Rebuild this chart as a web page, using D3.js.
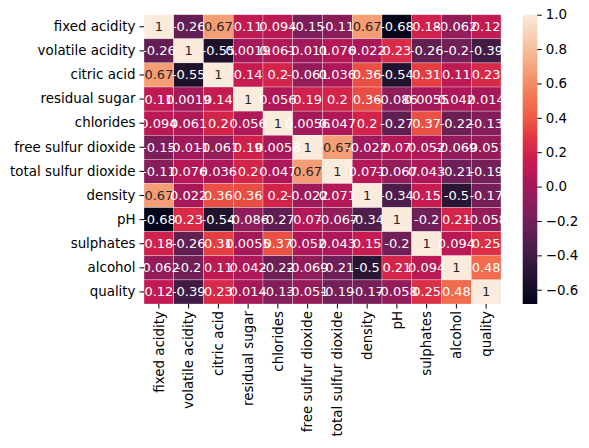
<!DOCTYPE html>
<html><head><meta charset="utf-8">
<script src="https://cdn.jsdelivr.net/npm/d3@7"></script>
<style>body{margin:0;background:#fff}svg{display:block}text{font-family:"DejaVu Sans",sans-serif}</style>
</head><body><svg id="c" width="589" height="448"></svg>
<script>
const labels = ["fixed acidity","volatile acidity","citric acid","residual sugar","chlorides","free sulfur dioxide","total sulfur dioxide","density","pH","sulphates","alcohol","quality"];
const r_fixed_acidity = [1, -0.2561, 0.6717, 0.1148, 0.09371, -0.1538, -0.1132, 0.668, -0.683, 0.183, -0.06167, 0.1241];
const r_volatile_acidity = [-0.2561, 1, -0.5525, 0.001918, 0.0613, -0.0105, 0.07647, 0.02203, 0.2349, -0.261, -0.2023, -0.3906];
const r_citric_acid = [0.6717, -0.5525, 1, 0.1436, 0.2038, -0.06098, 0.03553, 0.3649, -0.5419, 0.3128, 0.1099, 0.2264];
const r_residual_sugar = [0.1148, 0.001918, 0.1436, 1, 0.05561, 0.187, 0.203, 0.3553, -0.08565, 0.005527, 0.04208, 0.01373];
const r_chlorides = [0.09371, 0.0613, 0.2038, 0.05561, 1, 0.005562, 0.0474, 0.2006, -0.265, 0.3713, -0.2211, -0.1289];
const r_free_sulfur = [-0.1538, -0.0105, -0.06098, 0.187, 0.005562, 1, 0.6677, -0.02195, 0.07038, 0.05166, -0.06941, -0.05066];
const r_total_sulfur = [-0.1132, 0.07647, 0.03553, 0.203, 0.0474, 0.6677, 1, 0.07127, -0.0665, 0.04295, -0.2057, -0.1851];
const r_density = [0.668, 0.02203, 0.3649, 0.3553, 0.2006, -0.02195, 0.07127, 1, -0.3417, 0.1485, -0.4962, -0.1749];
const r_pH = [-0.683, 0.2349, -0.5419, -0.08565, -0.265, 0.07038, -0.0665, -0.3417, 1, -0.1966, 0.2056, -0.05773];
const r_sulphates = [0.183, -0.261, 0.3128, 0.005527, 0.3713, 0.05166, 0.04295, 0.1485, -0.1966, 1, 0.0936, 0.2514];
const r_alcohol = [-0.06167, -0.2023, 0.1099, 0.04208, -0.2211, -0.06941, -0.2057, -0.4962, 0.2056, 0.0936, 1, 0.4762];
const r_quality = [0.1241, -0.3906, 0.2264, 0.01373, -0.1289, -0.05066, -0.1851, -0.1749, -0.05773, 0.2514, 0.4762, 1];
const matrix = [r_fixed_acidity, r_volatile_acidity, r_citric_acid, r_residual_sugar, r_chlorides, r_free_sulfur, r_total_sulfur, r_density, r_pH, r_sulphates, r_alcohol, r_quality];
const cbarTicks = [-0.6, -0.4, -0.2, 0.0, 0.2, 0.4, 0.6, 0.8, 1.0];

// rocket colormap approximation
const rocketStops = [
 [0.0,"#03051a"],[0.07,"#1c1029"],[0.143,"#35193e"],[0.214,"#521e4d"],[0.286,"#701f57"],
 [0.357,"#8f1d5b"],[0.429,"#ad1759"],[0.5,"#cb1b4f"],[0.571,"#e13342"],[0.643,"#ed5a45"],
 [0.714,"#f37651"],[0.786,"#f5966c"],[0.857,"#f6b48f"],[0.929,"#f7d0b4"],[1.0,"#faebdd"]];
const rocket = d3.scaleLinear().domain(rocketStops.map(d=>d[0])).range(rocketStops.map(d=>d[1])).interpolate(d3.interpolateRgb).clamp(true);

const flat = matrix.flat();
const vmin = d3.min(flat), vmax = d3.max(flat);
const norm = d3.scaleLinear().domain([vmin, vmax]).range([0,1]);
const color = v => rocket(norm(v));

const L = 144, T = 14.7, W = 357, H = 289.3;
const svg = d3.select("#c");
const x = d3.scaleBand().domain(labels).range([L, L+W]);
const y = d3.scaleBand().domain(labels).range([T, T+H]);

const loc = d3.formatLocale({decimal:".", thousands:",", grouping:[3], currency:["",""], minus:"-"});
const fmt = loc.format(".2~g");

function lum(c){
  const rgb = d3.rgb(c);
  const f = v => { v/=255; return v<=0.03928 ? v/12.92 : Math.pow((v+0.055)/1.055,2.4); };
  return 0.2126*f(rgb.r)+0.7152*f(rgb.g)+0.0722*f(rgb.b);
}

const cells = [];
matrix.forEach((row,i)=>row.forEach((v,j)=>cells.push({r:labels[i], c:labels[j], v})));

svg.append("g").selectAll("rect").data(cells).join("rect")
  .attr("x", d=>x(d.c)).attr("y", d=>y(d.r))
  .attr("width", x.bandwidth()).attr("height", y.bandwidth())
  .attr("fill", d=>color(d.v)).attr("stroke","white").attr("stroke-width",0.5).attr("stroke-opacity",0.6);

svg.append("g").selectAll("text").data(cells).join("text")
  .attr("x", d=>x(d.c)+x.bandwidth()/2).attr("y", d=>y(d.r)+y.bandwidth()/2)
  .attr("text-anchor","middle").attr("dominant-baseline","central")
  .attr("font-size","13px")
  .attr("fill", d=> lum(color(d.v))>0.408 ? "#262626" : "#ffffff")
  .text(d=>fmt(d.v));

// y axis
const ya = svg.append("g").attr("transform",`translate(${L},0)`)
  .call(d3.axisLeft(y).tickSize(4.5).tickPadding(4));
ya.select(".domain").remove();
ya.selectAll("text").attr("font-size","13.4px").attr("fill","#000").attr("font-family","DejaVu Sans");
ya.selectAll("line").attr("stroke","#000").attr("stroke-width",1);

// x axis
const xa = svg.append("g").attr("transform",`translate(0,${T+H})`)
  .call(d3.axisBottom(x).tickSize(4.5).tickPadding(4));
xa.select(".domain").remove();
xa.selectAll("line").attr("stroke","#000").attr("stroke-width",1);
xa.selectAll("text").attr("font-size","13.4px").attr("fill","#000").attr("font-family","DejaVu Sans")
  .attr("transform","rotate(-90)").attr("text-anchor","end")
  .attr("x",-7).attr("y",0).attr("dy","0.35em");

// colorbar
const CX = 522.7, CW = 14.6, CT = 14.7, CB = 304;
const defs = svg.append("defs");
const grad = defs.append("linearGradient").attr("id","cg").attr("x1",0).attr("y1",1).attr("x2",0).attr("y2",0);
d3.range(0,1.0001,0.02).forEach(t=>grad.append("stop").attr("offset",t).attr("stop-color",rocket(t)));
svg.append("rect").attr("x",CX).attr("y",CT).attr("width",CW).attr("height",CB-CT).attr("fill","url(#cg)");
const cy = d3.scaleLinear().domain([vmin, vmax]).range([CB, CT]);
const ca = svg.append("g").attr("transform",`translate(${CX+CW},0)`)
  .call(d3.axisRight(cy).tickValues(cbarTicks).tickSize(4.5).tickPadding(4).tickFormat(d3.format(".1f")));
ca.select(".domain").remove();
ca.selectAll("line").attr("stroke","#000").attr("stroke-width",1);
ca.selectAll("text").attr("font-size","13.4px").attr("fill","#000").attr("font-family","DejaVu Sans");
</script></body></html>
